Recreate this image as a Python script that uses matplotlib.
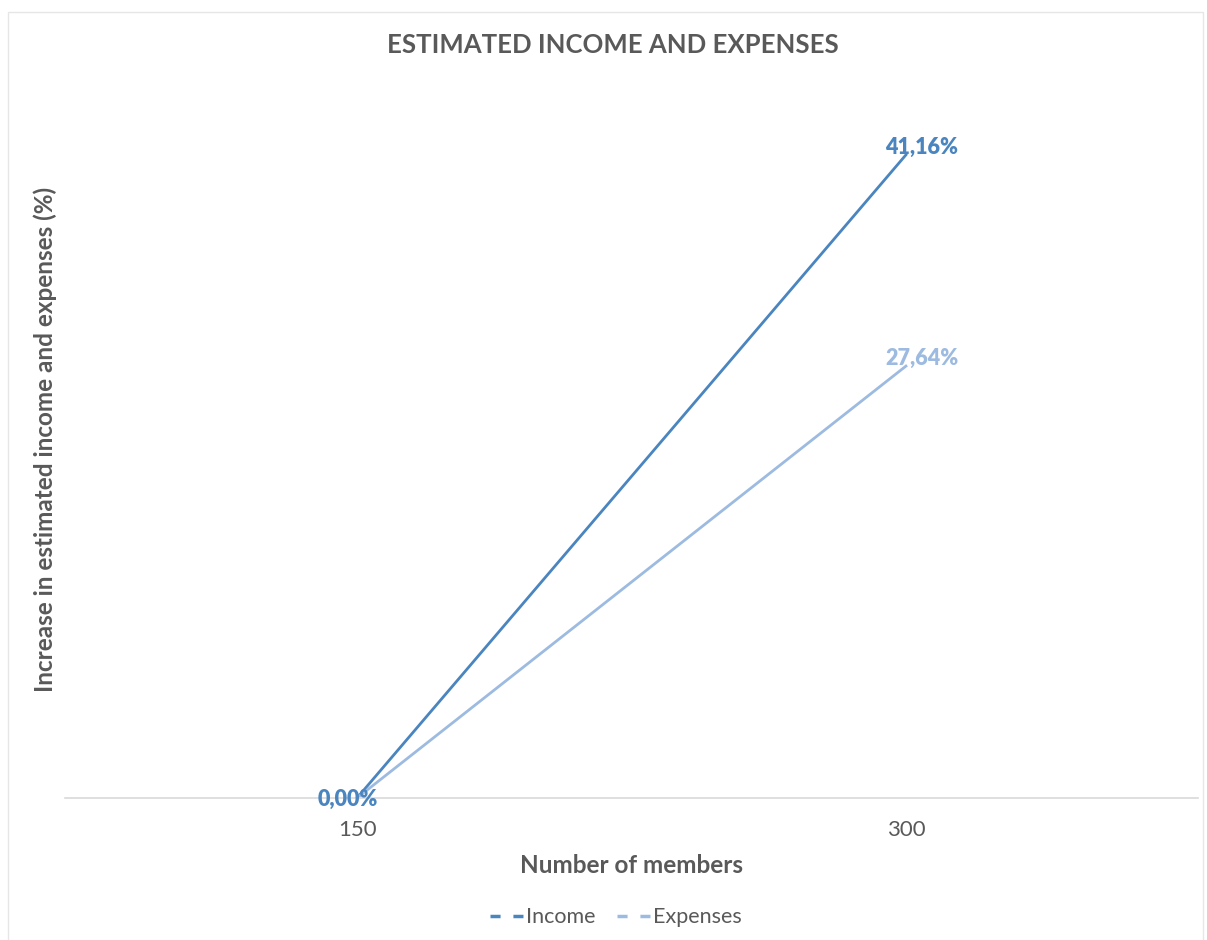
import matplotlib
matplotlib.use("Agg")
import matplotlib.pyplot as plt
from matplotlib.patches import Rectangle
from matplotlib.lines import Line2D

plt.rcParams['font.family'] = ['Lato', 'DejaVu Sans']

members = ["150", "300"]
income = [0.00, 41.16]
expenses = [0.00, 27.64]

c_inc = "#4a85bf"
c_exp = "#9dbbe1"
grey = "#595959"

fig = plt.figure(figsize=(12.07, 9.40), dpi=100)
ax = fig.add_axes([0.0539, 0.1511, 0.9386, 0.748])

x = list(range(len(members)))
ax.plot(x, income, color=c_inc, lw=2, label="Income")
ax.plot(x, expenses, color=c_exp, lw=2, label="Expenses")

ax.set_xlim(-0.532, 1.532)
ax.set_ylim(0, 45)
ax.set_xticks(x)
ax.set_xticklabels(members, fontsize=16, color=grey)
ax.tick_params(axis='x', length=0, pad=16)
ax.set_yticks([])
for s in ["top", "right", "left"]:
    ax.spines[s].set_visible(False)
ax.spines["bottom"].set_color("#d9d9d9")
ax.spines["bottom"].set_linewidth(1.2)

def fmt(v):
    return ("%.2f" % v).replace(".", ",") + "%"

lab = dict(textcoords="offset points", ha="center", va="center", fontsize=15.5,
           fontweight="heavy")
ax.annotate(fmt(income[0]), (x[0], income[0]), xytext=(-7, -1), color=c_inc, **lab)
ax.annotate(fmt(income[1]), (x[1], income[1]), xytext=(11.5, 5.3), color=c_inc, **lab)
ax.annotate(fmt(expenses[1]), (x[1], expenses[1]), xytext=(11.5, 5.3), color=c_exp, **lab)

ax.set_xlabel("Number of members", fontsize=17.5, fontweight="bold", color=grey)
ax.xaxis.set_label_coords(0.50, -0.080)
ax.set_ylabel("Increase in estimated income and expenses (%)", fontsize=17.5, fontweight="bold",
              color=grey)
ax.yaxis.set_label_coords(-0.007, 0.51)

fig.text(0.508, 0.952, "ESTIMATED INCOME AND EXPENSES", ha="center", va="center",
         fontsize=18.5, fontweight="bold", color=grey)

h1 = Line2D([], [], color=c_inc, lw=2.5, ls=(0, (2.9, 3.7)))
h2 = Line2D([], [], color=c_exp, lw=2.5, ls=(0, (2.9, 3.7)))
fig.legend([h1, h2], ["Income", "Expenses"], loc="center", bbox_to_anchor=(0.510, 0.024),
           ncol=2, frameon=False, fontsize=15.5, handlelength=1.6, handletextpad=0.08,
           columnspacing=1.0, labelcolor=grey)

fig.patches.append(Rectangle((0.007, -0.01), 0.99, 0.997, transform=fig.transFigure,
                             fill=False, edgecolor="#e6e6e6", lw=1))

fig.savefig("out.png", dpi=100)
